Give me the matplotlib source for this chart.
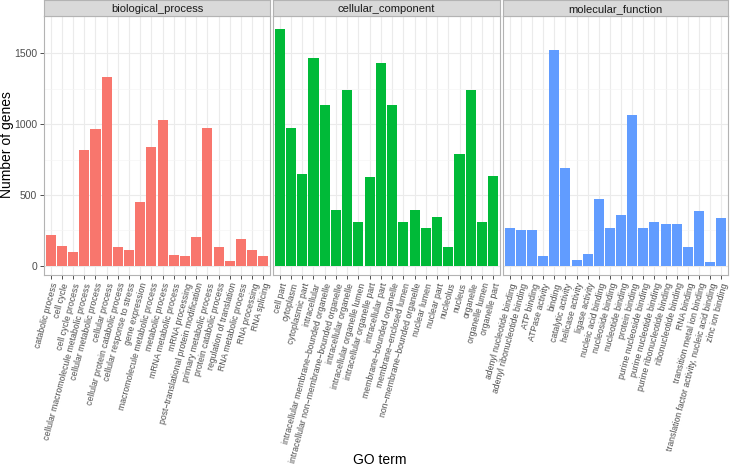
import numpy as np
import matplotlib
matplotlib.use("Agg")
import matplotlib.pyplot as plt

plt.rcParams['font.family'] = ['Liberation Sans', 'DejaVu Sans']

bp_terms = ["catabolic process", "cell cycle", "cell cycle process",
            "cellular macromolecule metabolic process", "cellular metabolic process",
            "cellular process", "cellular protein catabolic process",
            "cellular response to stress", "gene expression",
            "macromolecule metabolic process", "metabolic process",
            "mRNA metabolic process", "mRNA processing",
            "post\u2212translational protein modification", "primary metabolic process",
            "protein catabolic process", "regulation of translation",
            "RNA metabolic process", "RNA processing", "RNA splicing"]
bp_counts = [216, 136, 96, 816, 967, 1332, 132, 111, 452, 840,
             1028, 75, 66, 202, 974, 134, 35, 188, 108, 66]

cc_terms = ["cell part", "cytoplasm", "cytoplasmic part", "intracellular",
            "intracellular membrane\u2212bounded organelle",
            "intracellular non\u2212membrane\u2212bounded organelle",
            "intracellular organelle", "intracellular organelle lumen",
            "intracellular organelle part", "intracellular part",
            "membrane\u2212bounded organelle", "membrane\u2212enclosed lumen",
            "non\u2212membrane\u2212bounded organelle", "nuclear lumen", "nuclear part",
            "nucleolus", "nucleus", "organelle", "organelle lumen", "organelle part"]
cc_counts = [1673, 974, 649, 1468, 1132, 393, 1240, 306, 628, 1431,
             1132, 311, 393, 264, 341, 134, 791, 1240, 306, 635]

mf_terms = ["adenyl nucleotide binding", "adenyl ribonucleotide binding",
            "ATP binding", "ATPase activity", "binding", "catalytic activity",
            "helicase activity", "ligase activity", "nucleic acid binding",
            "nucleoside binding", "nucleotide binding", "protein binding",
            "purine nucleoside binding", "purine nucleotide binding",
            "purine ribonucleotide binding", "ribonucleotide binding",
            "RNA binding", "transition metal ion binding",
            "translation factor activity, nucleic acid binding", "zinc ion binding"]
mf_counts = [264, 252, 252, 68, 1522, 687, 38, 85, 473, 268,
             358, 1064, 268, 306, 292, 292, 129, 388, 28, 339]

panels = [("biological_process", bp_terms, bp_counts, "#F8766D"),
          ("cellular_component", cc_terms, cc_counts, "#00BA38"),
          ("molecular_function", mf_terms, mf_counts, "#619CFF")]

W, H = 730, 476
fig = plt.figure(figsize=(W / 100, H / 100), dpi=100)

# panel pixel boxes (left, right)
xs = [(44, 270), (273, 500), (503, 728)]
top_px, bot_px, strip_h = 16, 275, 16

ymax = max(max(bp_counts), max(cc_counts), max(mf_counts))
ylo, yhi = -0.04 * ymax, 1.055 * ymax

for i, ((name, terms, counts, color), (x0, x1)) in enumerate(zip(panels, xs)):
    ax = fig.add_axes([x0 / W, 1 - bot_px / H, (x1 - x0) / W, (bot_px - top_px) / H])
    n = len(terms)
    pos = np.arange(n)
    ax.bar(pos, counts, width=0.9, color=color, edgecolor='none', zorder=3)
    ax.set_xlim(-0.6, n - 0.4)
    ax.set_ylim(ylo, yhi)
    ax.set_yticks([0, 500, 1000, 1500])
    ax.set_yticks([250, 750, 1250], minor=True)
    ax.set_xticks(pos)
    ax.set_xticklabels(terms, rotation=75, ha='right', rotation_mode='anchor',
                       fontsize=6.2, color='#4D4D4D')
    ax.grid(True, which='major', color='#EBEBEB', linewidth=0.8, zorder=0)
    ax.grid(True, which='minor', axis='y', color='#F5F5F5', linewidth=0.5, zorder=0)
    ax.tick_params(axis='x', length=3, width=0.6, color='#333333', pad=2)
    ax.tick_params(axis='y', which='minor', length=0)
    ax.tick_params(axis='y', length=3, width=0.6, color='#333333',
                   labelsize=7.5, labelcolor='#4D4D4D', pad=2)
    if i > 0:
        ax.tick_params(axis='y', labelleft=False, length=0)
    for sp in ax.spines.values():
        sp.set_color('#B3B3B3')
        sp.set_linewidth(0.8)

    sax = fig.add_axes([x0 / W, 1 - top_px / H, (x1 - x0) / W, strip_h / H])
    sax.set_facecolor('#D9D9D9')
    sax.set_xticks([])
    sax.set_yticks([])
    for sp in sax.spines.values():
        sp.set_color('#B3B3B3')
        sp.set_linewidth(0.8)
    sax.text(0.5, 0.45, name, ha='center', va='center', fontsize=8,
             color='#1A1A1A', transform=sax.transAxes)

fig.text(7 / W, 1 - 145 / H, "Number of genes", rotation=90, ha='center',
         va='center', fontsize=10)
fig.text(380 / W, 1 - 460 / H, "GO term", ha='center', va='center', fontsize=10)

fig.savefig("out.png", dpi=100)
